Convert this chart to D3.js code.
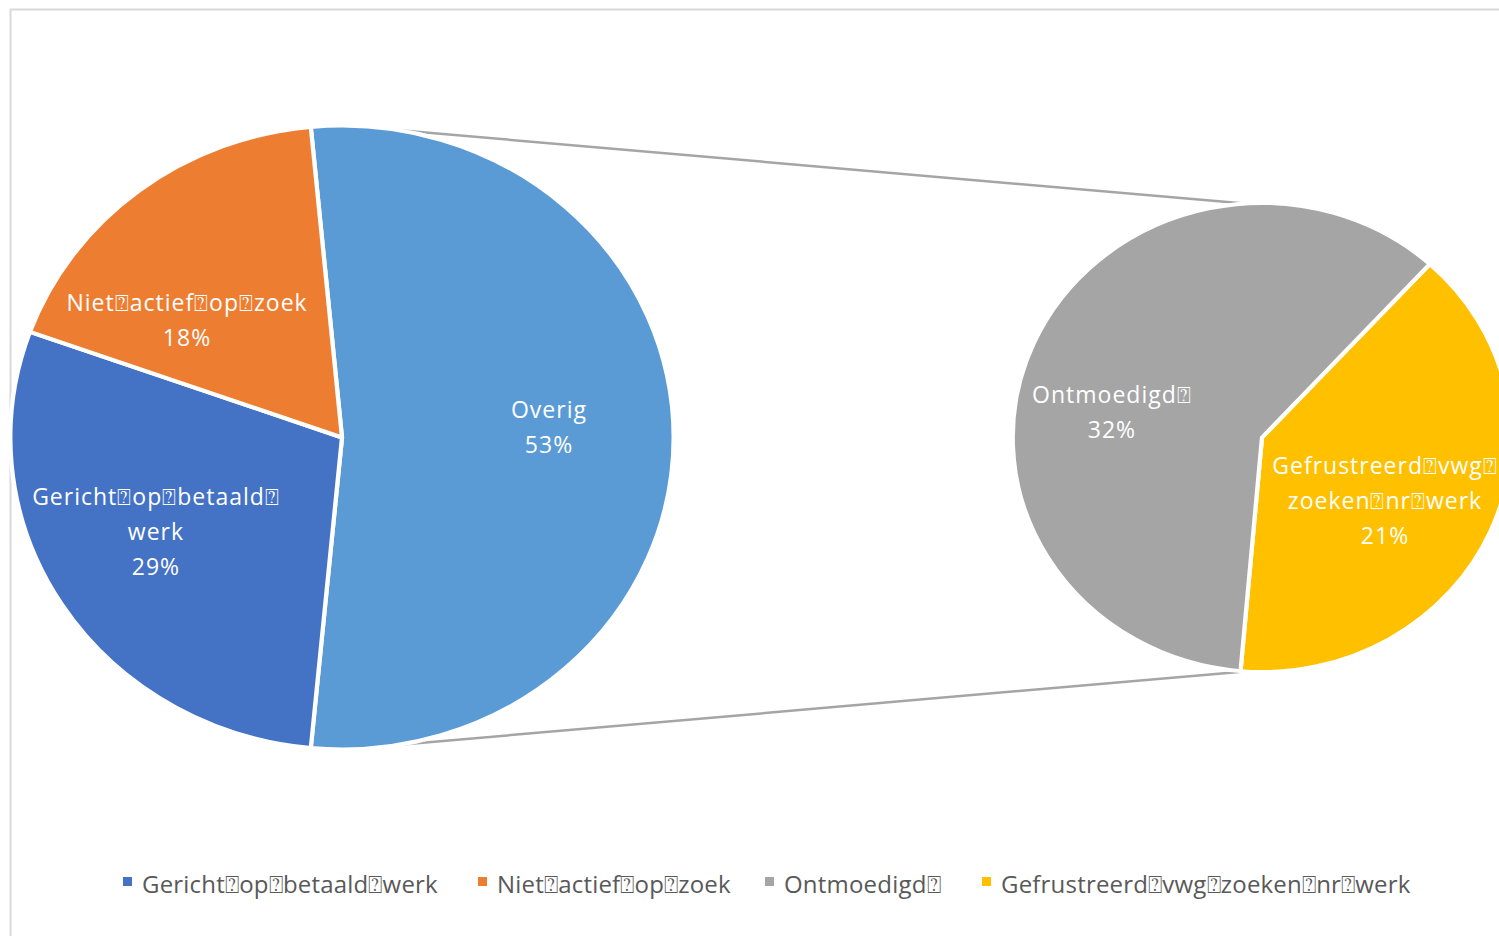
<!DOCTYPE html>
<html>
<head>
<meta charset="utf-8">
<script src="https://cdn.jsdelivr.net/npm/d3@7"></script>
<style>
  body { margin: 0; background: #fff; }
  svg { display: block; }
  text { font-family: "Open Sans", "DejaVu Sans", sans-serif; }
</style>
</head>
<body>
<svg id="chart"></svg>
<script>
// main pie (Overig is split out into the second pie)
var mainCats = ["Overig", "Gericht\u2370op\u2370betaald\u2370werk", "Niet\u2370actief\u2370op\u2370zoek"];
var mainVals = [53, 29, 18];
var mainColors = ["#5b9bd5", "#4472c4", "#ed7d31"];

// second pie
var subCats = ["Gefrustreerd\u2370vwg\u2370zoeken\u2370nr\u2370werk", "Ontmoedigd\u2370"];
var subVals = [21, 32];
var subColors = ["#ffc000", "#a5a5a5"];

// wrapped data labels, as Excel broke them
var mainLabelLines = [["Overig"], ["Gericht\u2370op\u2370betaald\u2370", "werk"], ["Niet\u2370actief\u2370op\u2370zoek"]];
var subLabelLines = [["Gefrustreerd\u2370vwg\u2370", "zoeken\u2370nr\u2370werk"], ["Ontmoedigd\u2370"]];

// legend order
var legendCats = ["Gericht\u2370op\u2370betaald\u2370werk", "Niet\u2370actief\u2370op\u2370zoek", "Ontmoedigd\u2370", "Gefrustreerd\u2370vwg\u2370zoeken\u2370nr\u2370werk"];
var legendColors = ["#4472c4", "#ed7d31", "#a5a5a5", "#ffc000"];

var width = 1499, height = 936;
var svg = d3.select("#chart").attr("width", width).attr("height", height);

// chart area border
svg.append("rect")
    .attr("x", 10.5).attr("y", 9.5)
    .attr("width", 1600).attr("height", 1000)
    .attr("fill", "none")
    .attr("stroke", "#d9d9d9")
    .attr("stroke-width", 2);

var sx = 1.063; // the pies are drawn a little wide
var total = d3.sum(mainVals);
var deg = Math.PI / 180;

var main = {cx: 342, cy: 437.5, r: 312};
var sub = {cx: 1262, cy: 437.5, r: 234.5};

// Excel's "best fit" label spots, as shifts from the slice centroid
var mainNudge = [[8, -10], [-18, -6], [-33, 31]];
var subNudge = [[-14, 7], [-13, 31]];

function pt(p, a) {
    return [p.cx + sx * p.r * Math.sin(a), p.cy - p.r * Math.cos(a)];
}

// connector lines from the main pie to the second pie
var lines = [[pt(main, 10 * deg), pt(sub, -4 * deg)], [pt(main, 170 * deg), pt(sub, 184 * deg)]];
svg.selectAll(".conn").data(lines).enter().append("line")
    .attr("class", "conn")
    .attr("x1", function(d) { return d[0][0]; })
    .attr("y1", function(d) { return d[0][1]; })
    .attr("x2", function(d) { return d[1][0]; })
    .attr("y2", function(d) { return d[1][1]; })
    .attr("stroke", "#a5a5a5")
    .attr("stroke-width", 2.5);

function drawPie(p, vals, colors, labelLines, nudge, start) {
    var pie = d3.pie().sort(null).value(function(d) { return d; })
        .startAngle(start).endAngle(start + 2 * Math.PI);
    var arcs = pie(vals);
    var arc = d3.arc().innerRadius(0).outerRadius(p.r);
    var labelArc = d3.arc().innerRadius(p.r * 0.6).outerRadius(p.r * 0.6);

    var g = svg.append("g")
        .attr("transform", "translate(" + p.cx + "," + p.cy + ") scale(" + sx + ",1)");
    g.selectAll("path").data(arcs).enter().append("path")
        .attr("d", arc)
        .attr("fill", function(d, i) { return colors[i]; })
        .attr("stroke", "#fff")
        .attr("stroke-width", 4)
        .attr("stroke-linejoin", "round");

    arcs.forEach(function(d, i) {
        var c = labelArc.centroid(d);
        var x = p.cx + sx * c[0] + nudge[i][0], y = p.cy + c[1] + nudge[i][1];
        // percentages are of the whole, as Excel shows them
        var rows = labelLines[i].concat([Math.round(d.value / total * 100) + "%"]);
        var lh = 35;
        var t = svg.append("text")
            .attr("text-anchor", "middle")
            .attr("fill", "#fff")
            .attr("font-size", 23)
            .attr("letter-spacing", 1);
        rows.forEach(function(r, k) {
            t.append("tspan")
                .attr("x", x)
                .attr("y", y + (k - (rows.length - 1) / 2) * lh + 8)
                .text(r);
        });
    });
}

// Overig is centred on the right-hand side, facing the second pie
drawPie(main, mainVals, mainColors, mainLabelLines, mainNudge, Math.PI / 2 - Math.PI * mainVals[0] / total);
drawPie(sub, subVals, subColors, subLabelLines, subNudge, 42.3 * deg);

// legend
var legendX = [123, 478, 765, 982];
var lg = svg.selectAll(".lg").data(legendCats).enter().append("g")
    .attr("class", "lg")
    .attr("transform", function(d, i) { return "translate(" + legendX[i] + ",885)"; });
lg.append("rect")
    .attr("x", 0).attr("y", -8)
    .attr("width", 9).attr("height", 9)
    .attr("fill", function(d, i) { return legendColors[i]; });
lg.append("text")
    .attr("x", 19).attr("y", 8)
    .attr("fill", "#595959")
    .attr("font-size", 24)
    .attr("letter-spacing", 0.2)
    .text(function(d) { return d; });
</script>
</body>
</html>
